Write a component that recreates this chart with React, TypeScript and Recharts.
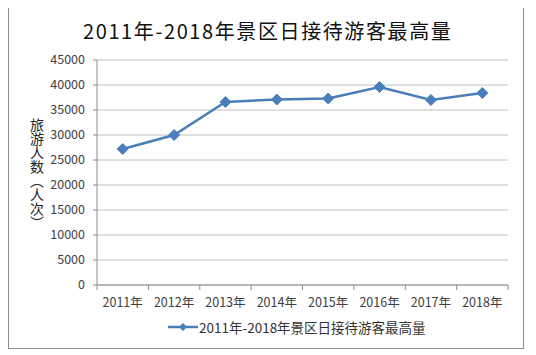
import { CartesianGrid, Legend, Line, LineChart, XAxis, YAxis } from 'recharts';

const years = ['2011年', '2012年', '2013年', '2014年', '2015年', '2016年', '2017年', '2018年'];
const visitors = [27200, 30000, 36600, 37100, 37300, 39600, 37000, 38400];
const yTicks = [0, 5000, 10000, 15000, 20000, 25000, 30000, 35000, 40000, 45000];

const seriesName = '2011年-2018年景区日接待游客最高量';
const title = '2011年-2018年景区日接待游客最高量';
const yLabel = '旅游人数（人次）';

const data = years.map((year, i) => ({ year, value: visitors[i] }));

const FONT = '"Noto Sans CJK SC", "Noto Sans", sans-serif';
const BLUE = '#4a7ebb';
const AXIS = '#8c8c8c';
const W = 520;
const H = 340;
const margin = { top: 52, right: 20, left: 0, bottom: 0 };
const Y_AXIS_W = 89;
const band = (W - margin.right - Y_AXIS_W) / years.length;

const Diamond = (props: any) => {
    const { cx, cy } = props;
    if (cx == null || cy == null) return null;
    const r = 5.5;
    return (
        <polygon
            points={`${cx},${cy - r} ${cx + r},${cy} ${cx},${cy + r} ${cx - r},${cy}`}
            fill={BLUE}
            stroke={BLUE}
        />
    );
};

const YearTick = (props: any) => {
    const { x, y, payload, index } = props;
    return (
        <g>
            {index === 0 && (
                <line x1={x - band / 2} y1={y} x2={x - band / 2} y2={y + 5} stroke={AXIS} />
            )}
            <line x1={x + band / 2} y1={y} x2={x + band / 2} y2={y + 5} stroke={AXIS} />
            <text x={x} y={y + 22} textAnchor="middle" fontSize={12.5} fill="#404040" fontFamily={FONT}>
                {payload.value}
            </text>
        </g>
    );
};

const VerticalLabel = () => (
    <text
        x={29}
        y={166}
        textAnchor="middle"
        fontSize={14}
        fill="#222"
        fontFamily={FONT}
        style={{ writingMode: 'vertical-rl' }}
    >
        {yLabel}
    </text>
);

const LegendContent = () => (
    <div style={{ display: 'flex', alignItems: 'center', fontFamily: FONT, fontSize: 13.5, color: '#333', whiteSpace: 'nowrap' }}>
        <svg width={30} height={12} style={{ marginRight: 1 }}>
            <line x1={0} y1={6} x2={30} y2={6} stroke={BLUE} strokeWidth={2.5} />
            <polygon points="15,2 19,6 15,10 11,6" fill={BLUE} />
        </svg>
        <span>{seriesName}</span>
    </div>
);

export default function App() {
    return (
        <div style={{ position: 'relative', width: 530, height: 345 }}>
            <div
                style={{
                    position: 'absolute',
                    left: 0,
                    top: -1,
                    width: 516,
                    height: 342,
                    border: `1px solid ${AXIS}`,
                    boxSizing: 'border-box',
                }}
            />
            <div
                style={{
                    position: 'absolute',
                    left: 75,
                    top: 8,
                    whiteSpace: 'nowrap',
                    fontFamily: FONT,
                    fontSize: 20,
                    letterSpacing: 1.6,
                    color: '#111',
                }}
            >
                {title}
            </div>
            <div style={{ position: 'absolute', left: 0, top: 0 }}>
                <LineChart width={W} height={H} data={data} margin={margin}>
                    <CartesianGrid vertical={false} stroke="#c0c0c0" />
                    <XAxis
                        dataKey="year"
                        type="category"
                        scale="band"
                        height={30}
                        stroke={AXIS}
                        tickLine={false}
                        tickSize={0}
                        tickMargin={0}
                        tick={<YearTick />}
                        interval={0}
                    />
                    <YAxis
                        width={Y_AXIS_W}
                        domain={[0, 45000]}
                        ticks={yTicks}
                        interval={0}
                        stroke={AXIS}
                        tickSize={4}
                        tickMargin={8}
                        tick={{ fontSize: 12.5, fill: '#404040', fontFamily: FONT }}
                        label={<VerticalLabel />}
                    />
                    <Legend
                        verticalAlign="bottom"
                        height={33}
                        content={<LegendContent />}
                        wrapperStyle={{ left: 160, top: 309, width: 'auto' }}
                    />
                    <Line
                        dataKey="value"
                        name={seriesName}
                        stroke={BLUE}
                        strokeWidth={2.5}
                        dot={<Diamond />}
                        activeDot={false}
                        isAnimationActive={false}
                    />
                </LineChart>
            </div>
        </div>
    );
}
